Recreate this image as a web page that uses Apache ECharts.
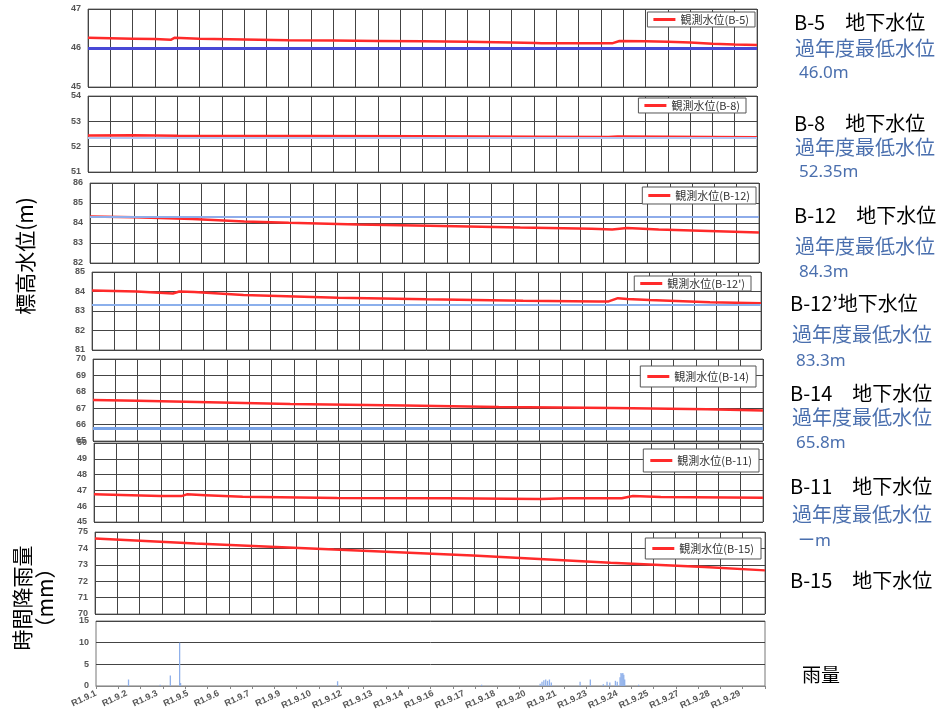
<!DOCTYPE html>
<html><head><meta charset="utf-8">
<script src="https://cdn.jsdelivr.net/npm/echarts@6/dist/echarts.min.js"></script>
<style>html,body{margin:0;padding:0;background:#fff}#c{width:941px;height:720px}</style>
</head><body><div id="c"></div>
<script>
// ---------- data ----------
const HOURS = 720; // R1.9.1 0:00 .. R1.10.1 0:00, hourly
const categories = [];
for (let h = 0; h <= HOURS; h++) categories.push(h < HOURS ? 'R1.9.' + (Math.floor(h / 24) + 1) : 'R1.10.1');

const wellNames = ['B-5', 'B-8', 'B-12', "B-12'", 'B-14', 'B-11', 'B-15'];

// observed water level [hour, m]
const levelB5 = [[0,46.26],[24,46.25],[48,46.24],[72,46.23],[89,46.21],[93,46.26],[120,46.24],[168,46.22],[216,46.20],[264,46.19],[312,46.18],[360,46.17],[408,46.16],[456,46.14],[482,46.13],[488,46.12],[528,46.12],[564,46.12],[572,46.18],[600,46.17],[624,46.16],[648,46.14],[672,46.11],[696,46.09],[720,46.08]];
const levelB8 = [[0,52.44],[48,52.45],[96,52.43],[240,52.42],[360,52.41],[480,52.39],[560,52.38],[570,52.40],[620,52.39],[720,52.37]];
const levelB12 = [[0,84.32],[48,84.29],[110,84.20],[166,84.08],[214,84.01],[288,83.93],[365,83.86],[463,83.77],[540,83.71],[562,83.68],[578,83.75],[612,83.68],[720,83.53]];
const levelB12d = [[0,84.05],[48,84.00],[87,83.90],[94,84.00],[110,83.97],[163,83.82],[265,83.68],[360,83.60],[464,83.53],[545,83.49],[556,83.49],[566,83.66],[576,83.62],[600,83.56],[665,83.45],[720,83.40]];
const levelB14 = [[0,67.50],[48,67.46],[112,67.38],[212,67.26],[336,67.17],[436,67.08],[560,67.01],[660,66.94],[720,66.86]];
const levelB11 = [[0,46.75],[40,46.70],[72,46.64],[94,46.64],[100,46.75],[120,46.70],[160,46.60],[262,46.52],[380,46.50],[480,46.46],[510,46.50],[568,46.50],[580,46.64],[610,46.58],[720,46.54]];
const levelB15 = [[0,74.60],[108,74.30],[257,73.93],[406,73.57],[554,73.12],[655,72.87],[720,72.66]];
const levels = [levelB5, levelB8, levelB12, levelB12d, levelB14, levelB11, levelB15];

// past-year lowest water level (m)
const pastLowest = [46.0, 52.35, 84.3, 83.3, 65.8, null, null];
const pastLowestText = ['46.0m', '52.35m', '84.3m', '83.3m', '65.8m', 'ーm', null];

// y-axis ranges
const yMin = [45, 51, 82, 81, 65, 45, 70];
const yMax = [47, 54, 86, 85, 70, 50, 75];

// hourly rainfall (mm)
const rainHours = [35, 69, 80, 90, 91, 260, 415, 478, 480, 482, 484, 486, 488, 490, 521, 532, 546, 550, 553, 559, 561, 564, 565, 566, 567, 568, 569, 584];
const rainMm    = [1.5, 0.3, 2.4, 10, 0.7, 1.1, 0.3, 0.5, 1.0, 1.3, 1.5, 1.2, 1.5, 0.8, 1.0, 1.5, 0.4, 1.0, 0.8, 1.2, 1.0, 2.0, 3.0, 2.8, 3.0, 2.6, 1.5, 0.3];

// ---------- layout ----------
const gridBoxes = [
  {left: 88, right: 184, top: 9,   height: 78},
  {left: 88, right: 184, top: 96,  height: 76},
  {left: 90, right: 182, top: 183, height: 80},
  {left: 92, right: 180, top: 272, height: 78},
  {left: 93, right: 178, top: 359, height: 82},
  {left: 94, right: 178, top: 443, height: 79},
  {left: 95, right: 176, top: 532, height: 82},
  {left: 96, right: 176, top: 621, height: 65}
];
const legendPos = [
  {right: 186, top: 12, padding: [2, 6]},
  {right: 195, top: 98, padding: [2, 6]},
  {right: 185, top: 187, padding: [3, 6]},
  {right: 190, top: 276, padding: [2, 6]},
  {right: 185, top: 366, padding: [5, 7]},
  {right: 182, top: 449, padding: [6, 7]},
  {right: 180, top: 538, padding: [5, 7]}
];
const blueColor = ['#4848d6', '#b4c6f2', '#8eacea', '#8cb0ec', '#78a2e6'];
const blueWidth = [3, 2, 2, 2, 3];

const grid = [], xAxis = [], yAxis = [], series = [], legend = [];
const GRID_LINE = '#444';

for (let i = 0; i < 8; i++) {
  grid.push(Object.assign({show: true, borderColor: '#777', borderWidth: 1, backgroundColor: '#fff'}, gridBoxes[i]));
}

for (let i = 0; i < 7; i++) {
  xAxis.push({
    type: 'category', gridIndex: i, data: categories, boundaryGap: false,
    axisLine: {show: false}, axisTick: {show: false}, axisLabel: {show: false},
    splitLine: {show: true, interval: 23, lineStyle: {color: GRID_LINE, width: 1}}
  });
  yAxis.push({
    type: 'value', gridIndex: i, min: yMin[i], max: yMax[i], interval: 1,
    axisLine: {show: false}, axisTick: {show: false},
    axisLabel: {fontSize: 9, fontWeight: 'bold', color: '#555', margin: 7, fontFamily: 'Liberation Sans'},
    splitLine: {show: true, lineStyle: {color: GRID_LINE, width: 1}}
  });
  const name = '観測水位(' + wellNames[i] + ')';
  const s = {
    name: name, type: 'line', xAxisIndex: i, yAxisIndex: i,
    data: levels[i], showSymbol: false, symbol: 'none', smooth: false,
    lineStyle: {color: '#ff2a2a', width: 2.5}, itemStyle: {color: '#ff2a2a'},
    z: 3
  };
  if (pastLowest[i] != null) {
    s.markLine = {
      silent: true, symbol: 'none', animation: false,
      label: {show: false},
      lineStyle: {color: blueColor[i], width: blueWidth[i], type: 'solid'},
      data: [{yAxis: pastLowest[i]}]
    };
  }
  series.push(s);
  legend.push(Object.assign({
    data: [name], orient: 'horizontal',
    backgroundColor: '#fff', borderColor: '#555', borderWidth: 1, borderRadius: 0,
    icon: 'rect', itemWidth: 22, itemHeight: 3, itemGap: 4,
    textStyle: {fontSize: 11, color: '#333', fontFamily: 'Noto Sans CJK JP'},
    selectedMode: false
  }, legendPos[i]));
}

// rainfall panel
xAxis.push({
  type: 'category', gridIndex: 7, data: categories, boundaryGap: false,
  axisLine: {show: true, lineStyle: {color: '#888'}},
  axisTick: {show: true, interval: 23, length: 3, lineStyle: {color: '#888'}},
  axisLabel: {interval: 32, rotate: 25, fontSize: 9, fontWeight: 'bold', color: '#555', margin: 7, fontFamily: 'Liberation Sans'},
  splitLine: {show: false}
});
yAxis.push({
  type: 'value', gridIndex: 7, min: 0, max: 15, interval: 5,
  axisLine: {show: false}, axisTick: {show: false},
  axisLabel: {fontSize: 9, fontWeight: 'bold', color: '#555', margin: 7, fontFamily: 'Liberation Sans'},
  splitLine: {show: true, lineStyle: {color: GRID_LINE, width: 1}}
});
const rainData = new Array(HOURS + 1).fill(0);
rainHours.forEach((h, k) => { rainData[h] = rainMm[k]; });
series.push({
  name: '雨量', type: 'bar', xAxisIndex: 7, yAxisIndex: 7, data: rainData,
  barWidth: 1.3, itemStyle: {color: '#8fb0ea'}, silent: true
});

// ---------- texts ----------
const cjk = '"Noto Sans CJK JP", sans-serif';
const graphic = [];
graphic.push({type: 'text', x: 25, y: 256, rotation: Math.PI / 2,
  style: {text: '標高水位(m)', font: '21px ' + cjk, fill: '#000', align: 'center', verticalAlign: 'middle'}});
graphic.push({type: 'text', x: 34, y: 598, rotation: Math.PI / 2,
  style: {text: '時間降雨量\n（mm）', font: '21px ' + cjk, lineHeight: 23, fill: '#000', align: 'center', verticalAlign: 'middle'}});

const titleY = [22, 123, 215, 303, 393, 486, 580];
const titleX = [794, 794, 794, 790, 790, 790, 790];
const subY = [48, 147, 246, 334, 417, 514];
const subX = [795, 795, 795, 792, 792, 792];
const valY = [73, 172, 272, 361, 443, 541];
const valX = [799, 799, 799, 796, 796, 798];
const blueText = '#4a6fae';
for (let i = 0; i < 7; i++) {
  const t = wellNames[i] === "B-12'" ? 'B-12’地下水位' : wellNames[i] + '　地下水位';
  graphic.push({type: 'text', x: titleX[i], y: titleY[i],
    style: {text: t, font: '20px ' + cjk, fill: '#000', align: 'left', verticalAlign: 'middle'}});
  if (pastLowestText[i] != null) {
    graphic.push({type: 'text', x: subX[i], y: subY[i],
      style: {text: '過年度最低水位', font: '20px ' + cjk, fill: blueText, align: 'left', verticalAlign: 'middle'}});
    graphic.push({type: 'text', x: valX[i], y: valY[i],
      style: {text: pastLowestText[i], font: '17px "Noto Sans", "Noto Sans CJK JP", sans-serif', fill: blueText, align: 'left', verticalAlign: 'middle'}});
  }
}
graphic.push({type: 'text', x: 802, y: 675,
  style: {text: '雨量', font: '19px ' + cjk, fill: '#000', align: 'left', verticalAlign: 'middle'}});

const chart = echarts.init(document.getElementById('c'), null, {renderer: 'canvas'});
chart.setOption({
  animation: false,
  backgroundColor: '#fff',
  grid, xAxis, yAxis, series, legend, graphic
});
</script></body></html>
